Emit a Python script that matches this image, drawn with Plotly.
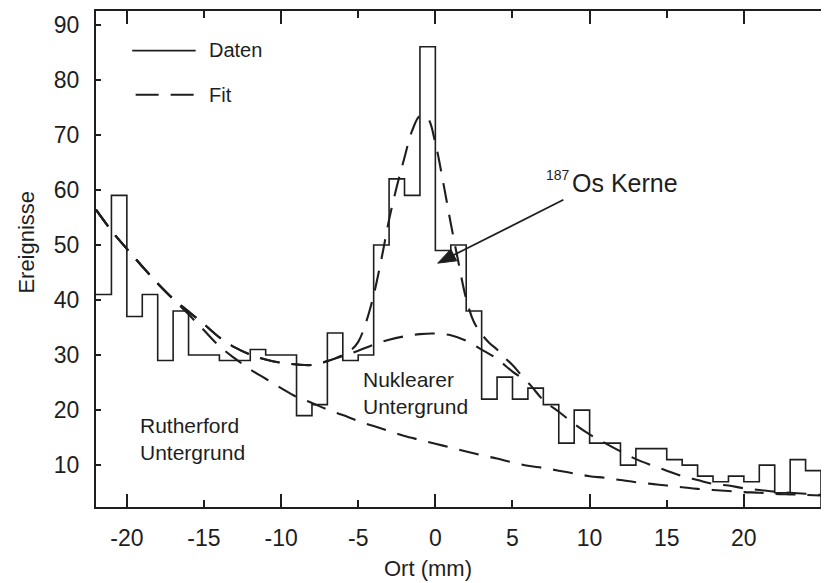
import math
import plotly.graph_objects as go

# Histogram: counts per 1 mm bin, bin left edges from -22 mm to 24 mm
bin_left = list(range(-22, 25))
counts = [41, 59, 37, 41, 29, 38, 30, 30, 29, 29, 31, 30, 30, 19, 21, 34, 29, 30,
          50, 62, 59, 86, 49, 50, 38, 22, 26, 22, 24, 21, 14, 20, 14, 14, 10, 13,
          13, 11, 10, 8, 7, 8, 7, 10, 5, 11, 9]
bin_width = 1

# Background fit components sampled on a 1 mm grid
bg_pos = list(range(-22, 26))
rutherford = [56.4, 52.6, 49.3, 46.1, 43.0, 40.2, 37.4, 34.5, 31.6, 29.4, 27.4, 25.7,
              24.0, 22.4, 21.3, 20.1, 19.1, 18.0, 17.1, 16.2, 15.3, 14.6, 13.9, 13.2,
              12.5, 11.8, 11.2, 10.5, 9.9, 9.5, 9.0, 8.5, 8.0, 7.7, 7.3, 6.9, 6.6,
              6.3, 6.0, 5.7, 5.5, 5.3, 5.1, 5.0, 4.8, 4.7, 4.6, 4.5]
rutherford_nuclear = [56.4, 52.6, 49.3, 46.1, 43.0, 40.2, 37.9, 35.6, 33.2, 31.4, 30.1,
                      29.2, 28.6, 28.3, 28.2, 28.9, 29.8, 30.8, 31.9, 32.8, 33.4, 33.8,
                      33.9, 33.6, 32.6, 31.0, 29.3, 27.0, 25.0, 21.8, 19.7, 17.5, 15.6,
                      14.0, 12.5, 11.1, 10.0, 9.0, 8.0, 7.3, 6.6, 6.3, 5.8, 5.5, 5.2,
                      5.0, 4.8, 4.6]

# Full fit (background + 187Os peak) around the peak, 0.5 mm grid
peak_pos = [-6.5, -6, -5.5, -5, -4.5, -4, -3.5, -3, -2.5, -2, -1.5, -1, -0.5, 0,
            0.5, 1, 1.5, 2, 2.5, 3, 3.5, 4, 4.5, 5, 5.5, 6]
peak_fit = [29.4, 30.0, 30.8, 32.4, 35.9, 40.9, 47.4, 54.6, 60.6, 65.9, 70.8, 73.4,
            73.0, 68.5, 61.5, 53.9, 46.8, 40.2, 36.0, 33.8, 32.2, 31.0, 29.5, 28.2,
            26.6, 25.0]

INK = "#1e1e1e"
FONT = "Liberation Sans, Arial, sans-serif"
DASH = "20px,12px"

x_labels = [-20, -15, -10, -5, 0, 5, 10, 15, 20]
x_major = [-20, -10, 0, 10, 20]
y_labels = [10, 20, 30, 40, 50, 60, 70, 80, 90]
x_range = [-22, 25]
y_range = [2.4, 92.5]

W, H = 827, 583
M = dict(l=96, r=6, t=11, b=76)

# Step outline of the histogram
step_x, step_y = [], []
for left, c in zip(bin_left, counts):
    step_x += [left, left + bin_width]
    step_y += [c, c]
step_x.append(bin_left[-1] + bin_width)
step_y.append(0)

# Full fit: background on the left wing, then the peak region
fit_x = [p for p in bg_pos if p < peak_pos[0]] + peak_pos
fit_y = [v for p, v in zip(bg_pos, rutherford_nuclear) if p < peak_pos[0]] + peak_fit

fig = go.Figure()
fig.add_trace(go.Scatter(x=step_x, y=step_y, mode="lines",
                         line=dict(color=INK, width=1.6), name="Daten",
                         showlegend=False, hoverinfo="skip"))
fig.add_trace(go.Scatter(x=bg_pos, y=rutherford, mode="lines",
                         line=dict(color=INK, width=2.1, dash=DASH, shape="spline"),
                         showlegend=False))
fig.add_trace(go.Scatter(x=bg_pos, y=rutherford_nuclear, mode="lines",
                         line=dict(color=INK, width=2.1, dash=DASH, shape="spline"),
                         showlegend=False))
fig.add_trace(go.Scatter(x=fit_x, y=fit_y, mode="lines",
                         line=dict(color=INK, width=2.1, dash=DASH, shape="spline"),
                         name="Fit", showlegend=False))
# Carrier for the second x axis (long ticks every 10 mm)
fig.add_trace(go.Scatter(x=x_range, y=y_range, xaxis="x2", mode="none",
                         showlegend=False, hoverinfo="skip"))

fig.update_layout(
    width=W, height=H,
    margin=M,
    paper_bgcolor="white", plot_bgcolor="white",
    font=dict(family=FONT, color=INK, size=21),
    showlegend=False,
    xaxis=dict(range=x_range, tickvals=x_labels, ticktext=[str(v) for v in x_labels],
               ticks="inside", ticklen=7, tickwidth=2, tickcolor=INK,
               showline=True, linewidth=2, linecolor=INK, mirror="ticks",
               showgrid=False, zeroline=False, tickfont=dict(size=23),
               ticklabelstandoff=9),
    xaxis2=dict(range=x_range, overlaying="x", anchor="y", side="bottom",
                tickvals=x_major, ticks="inside", ticklen=13,
                tickwidth=2, tickcolor=INK, showticklabels=False,
                showline=False, mirror="ticks", showgrid=False, zeroline=False),
    yaxis=dict(range=y_range, tickvals=y_labels, ticktext=[str(v) for v in y_labels],
               ticks="inside", ticklen=5, tickwidth=2, tickcolor=INK,
               showline=True, linewidth=2, linecolor=INK, mirror=False,
               showgrid=False, zeroline=False, tickfont=dict(size=23),
               ticklabelstandoff=10),
)

# Legend drawn inside the plot area
fig.add_shape(type="line", xref="x", yref="y", x0=-19.65, x1=-15.54, y0=85.3, y1=85.3,
              line=dict(color=INK, width=1.6))
fig.add_shape(type="line", xref="x", yref="y", x0=-19.43, x1=-15.54, y0=77.3, y1=77.3,
              line=dict(color=INK, width=2.1, dash="23px,12px"))
fig.add_annotation(x=-14.8, y=85.4, xref="x", yref="y", text="Daten", showarrow=False,
                   xanchor="left", yanchor="middle", font=dict(size=20))
fig.add_annotation(x=-14.8, y=77.3, xref="x", yref="y", text="Fit", showarrow=False,
                   xanchor="left", yanchor="middle", font=dict(size=20))

# Component labels
fig.add_annotation(x=-19.3, y=14.8, xref="x", yref="y", text="Rutherford<br>Untergrund",
                   showarrow=False, xanchor="left", yanchor="middle", align="left",
                   font=dict(size=21))
fig.add_annotation(x=-4.8, y=23.1, xref="x", yref="y", text="Nuklearer<br>Untergrund",
                   showarrow=False, xanchor="left", yanchor="middle", align="left",
                   font=dict(size=21))

# Peak label: mass number set as a raised small label before the element name
fig.add_annotation(x=7.05, y=62.8, xref="x", yref="y", text="187",
                   showarrow=False, xanchor="left", yanchor="middle", font=dict(size=14))
fig.add_annotation(x=8.7, y=61.3, xref="x", yref="y", text="Os Kerne",
                   showarrow=False, xanchor="left", yanchor="middle", font=dict(size=25))

# Arrow from the label to the peak: shaft plus filled head, head sized in pixels
arrow_tip = (0.15, 46.7)
arrow_tail = (8.3, 58.2)
head_len_px, head_half_px = 18, 6.5
px_per_x = (W - M["l"] - M["r"]) / (x_range[1] - x_range[0])
px_per_y = (H - M["t"] - M["b"]) / (y_range[1] - y_range[0])
dx = (arrow_tail[0] - arrow_tip[0]) * px_per_x
dy = (arrow_tail[1] - arrow_tip[1]) * px_per_y
norm = math.hypot(dx, dy)
ux, uy = dx / norm, dy / norm
bx, by = ux * head_len_px, uy * head_len_px
c1 = (arrow_tip[0] + (bx - uy * head_half_px) / px_per_x,
      arrow_tip[1] + (by + ux * head_half_px) / px_per_y)
c2 = (arrow_tip[0] + (bx + uy * head_half_px) / px_per_x,
      arrow_tip[1] + (by - ux * head_half_px) / px_per_y)
base = (arrow_tip[0] + bx / px_per_x, arrow_tip[1] + by / px_per_y)
fig.add_shape(type="line", xref="x", yref="y", x0=base[0], y0=base[1],
              x1=arrow_tail[0], y1=arrow_tail[1], line=dict(color=INK, width=1.7))
fig.add_shape(type="path", xref="x", yref="y",
              path=f"M {arrow_tip[0]},{arrow_tip[1]} L {c1[0]},{c1[1]} "
                   f"L {c2[0]},{c2[1]} Z",
              fillcolor=INK, line=dict(color=INK, width=1))

# Axis titles
fig.add_annotation(x=0.4586, y=-0.123, xref="paper", yref="paper", text="Ort (mm)",
                   showarrow=False, xanchor="center", yanchor="middle",
                   font=dict(size=22))
fig.add_annotation(x=-0.0952, y=0.535, xref="paper", yref="paper", text="Ereignisse",
                   showarrow=False, xanchor="center", yanchor="middle", textangle=-90,
                   font=dict(size=22))

fig.write_html("out.html")
